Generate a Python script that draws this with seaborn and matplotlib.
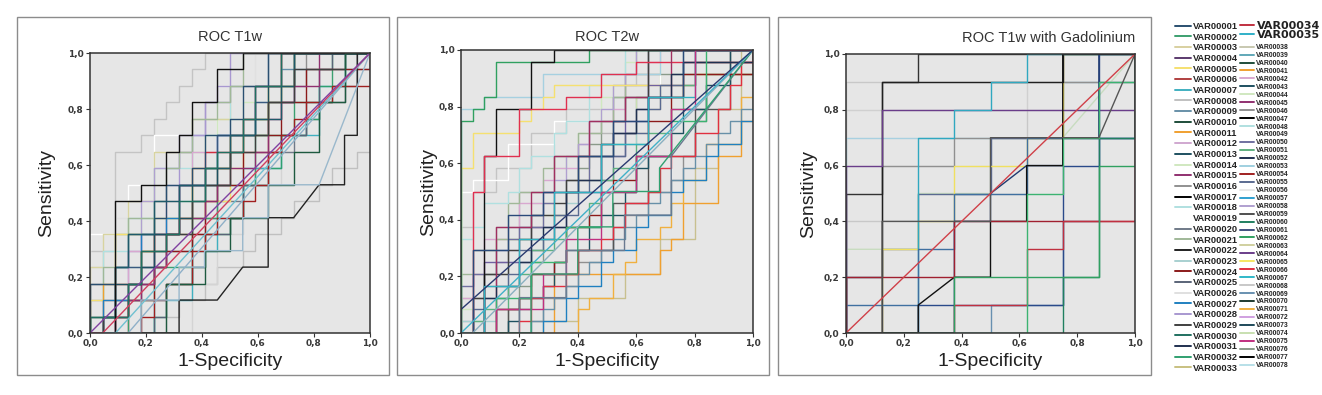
import numpy as np
import matplotlib
matplotlib.use("Agg")
import matplotlib.pyplot as plt
from matplotlib.lines import Line2D
from matplotlib.patches import Rectangle
import seaborn as sns

# ROC curves written as runs of steps: R = one negative case, U = one positive case,
# Dk/m = tied block (k negatives, m positives)
t1_n = (22, 17)
t1_moves = [
    "U5 R2 U6 R2 U1 R1 U1 R1 U1 R1 U1 R1 U1 R1 U1 R13",
    "U6 R3 U3 R2 U3 R5 U3 R5 U2 R7",
    "U4 R1 U1 R1 U2 R1 U1 R1 U1 R2 U1 R1 U1 R2 U2 R1 U1 R1 U1 R2 U2 R9",
    "R6 U1 R1 U1 R2 U1 R1 U1 R2 U1 R1 U1 R2 U1 R1 U1 R2 U1 R1 U1 R2 U1 R1 U6",
    "U2 R1 U1 R1 U1 R1 U2 R1 U1 R1 U1 R2 U1 R1 U2 R1 U1 R1 U1 R2 U1 R1 U1 R1 U2 R8",
    "U4 R1 U2 R2 U2 R2 U3 R3 U2 R3 U2 R4 U2 R7",
    "U2 R1 U3 R2 U2 R2 U3 R3 U2 R3 U3 R3 U2 R8",
    "U3 R4 U5 R1 U2 R2 U2 R2 U2 R2 U1 R3 U2 R8",
    "R1 U2 R1 U1 R1 U2 R1 U1 R1 U2 R1 U1 R1 U2 R1 U1 R1 U2 R1 U1 R1 U2 R11",
    "R8 U3 R2 U3 R2 U3 R3 U2 R3 U3 R2 U3 R2",
    "R4 U4 R2 U3 R3 U3 R2 U2 R3 U3 R3 U2 R5",
    "U1 R1 U2 R1 U1 R2 U2 R1 U1 R2 U1 R1 U2 R2 U1 R2 U1 R1 U2 R2 U1 R1 U2 R6",
    "U3 R1 U1 R1 U2 R1 U1 R2 U1 R1 U2 R1 U1 R1 U2 R2 U1 R1 U1 R1 U2 R10",
    "U2 R2 U1 R1 U2 R1 U1 R2 U2 R1 U1 R1 U2 R2 U1 R2 U1 R1 U2 R2 U2 R7",
    "U1 R2 U1 R1 U1 R1 U2 R2 U1 R1 U1 R1 U2 R2 U1 R1 U1 R1 U2 R2 U1 R1 U1 R1 U2 R6",
    "R1 U1 R1 U1 R2 U1 R1 U1 R1 U1 R2 U1 R1 U1 R1 U1 R2 U1 R1 U1 R1 U1 R2 U1 R1 U1 R1 U1 R2 U1 R1 U2 R1",
    "U2 R2 U4 R3 U1 R4 U1 R2 U2 R1 U3 R2 U2 R2 U2 R6",
    "R1 U3 R3 U2 R1 U1 R3 U4 R3 U2 R3 U2 R1 U3 R7",
    "R3 U3 R2 U3 R2 U3 R2 U2 R3 U2 R1 U2 R2 U2 R7",
    "R2 U2 R1 U1 R2 U2 R1 U1 R2 U2 R1 U1 R2 U2 R1 U1 R2 U2 R1 U2 R7 U1",
    "R5 U2 R3 U3 R2 U2 R2 U3 R3 U2 R3 U3 R2 U2 R2",
    "R3 U2 R2 U2 R3 U3 R2 U2 R3 U3 R3 U2 R3 U3 R3",
    "R5 U1 R1 U2 R2 U1 R1 U2 R2 U1 R1 U2 R2 U1 R1 U2 R2 U1 R1 U2 R2 U2 R2",
    "R1 U2 R2 U1 R1 U3 R2 U1 R1 U2 R2 U1 R1 U2 R2 U1 R1 U2 R2 U2 R7",
    "R1 U1 R1 U3 R3 U2 R2 U3 R3 U3 R3 U2 R3 U3 R6",
    "R5 U1 R1 U2 R2 U1 R1 U2 R2 U1 R1 U2 R2 U2 R1 U1 R2 U2 R1 U2 R1 U1 R3",
    "R2 U1 R1 U1 R2 U2 R1 U1 R2 U1 R1 U2 R1 U1 R2 U2 R2 U1 R1 U2 R2 U2 R5 U1",
    "R4 U1 R1 U1 R1 U1 R2 U2 R1 U1 R1 U1 R2 U1 R1 U1 R1 U2 R1 U1 R1 U1 R1 U1 R2 U1 R3 U2",
    "R2 U1 R1 U1 R1 U1 R1 U1 R1 U2 R1 U1 R2 U1 R1 U1 R1 U1 R2 U1 R1 U2 R1 U1 R1 U1 R2 U2 R4",
    "U3 R2 U1 R1 U2 R2 U1 R1 U2 R2 U1 R1 U2 R2 U1 R1 U2 R2 U2 R8",
    "R1 U1 R1 U2 R2 U1 R1 U2 R2 U1 R1 U2 R2 U1 R1 U2 R2 U1 R1 U2 R2 U2 R6",
    "U1 R2 U3 R1 U2 R2 U2 R2 U1 R2 U1 R2 U2 R2 U1 R2 U2 R1 U2 R6",
    "R1 U1 R2 U2 R1 U2 R2 U1 R2 U2 R1 U1 R2 U2 R2 U1 R1 U2 R2 U2 R4 U1 R2",
    "U1 R3 U2 R1 U2 R2 U1 R1 U2 R2 U2 R1 U1 R2 U2 R1 U2 R2 U2 R7",
    "R2 U8 R2 U1 R2 U2 R1 U1 R1 U2 R2 U2 R2 U1 R10",
    "R6 U3 R3 U2 R2 U2 R3 U2 R2 U2 R2 U3 R2 U3 R2",
    "R7 U2 R3 D2/2 R2 U3 R2 D2/2 R2 U3 R1 U5 R1",
    "R4 U2 R3 U2 R2 U1 R3 U2 R2 U2 R4 D4/8",
    "R3 D19/17",
    "R2 D20/17",
    "R1 D21/17",
    "D22/17",
]
t1_colors = ["#c4c4c4", "#ffffff", "#e0e0e0", "#c0c0c0", "#d0e8c0", "#d8d4a0",
             "#b0e0e0", "#b0a0d0", "#a898d0", "#d4d4d4", "#909090", "#a8d0d0",
             "#a0b898", "#d8a8d0", "#c8c080", "#707a88", "#f5e070", "#f0a030",
             "#d03040", "#6890a8", "#40b0c0", "#3ca070", "#30a070", "#2080c0",
             "#3a5a80", "#5a6478", "#8b1a1a", "#a02020", "#903070", "#2a4f70",
             "#1e5060", "#1f5a6a", "#404040", "#207060", "#111111", "#1e5a40",
             "#222222", "#9ab8cc", "#8fb0c8", "#70c0d0", "#d04060", "#8040a0"]

t2_n = (25, 24)
t2_moves = [
    "U9 R1 U3 R2 U2 R3 U3 R3 U2 R3 U2 R3 U3 R10",
    "R1 U7 R2 U2 R2 U3 R3 U3 R3 U2 R4 U3 R4 U4 R6",
    "R1 U5 R2 U3 R3 U2 R3 U3 R3 U3 R3 U4 R2 U4 R8",
    "U12 R1 U1 R3 U3 R4 U2 R4 U3 R5 U3 R8",
    "U2 R1 U1 R1 U2 R1 U1 R1 U2 R1 U1 R1 U2 R1 U1 R1 U2 R1 U1 R1 U2 R1 U1 R1 U2 R1 U1 R1 U2 R1 U1 R10",
    "R4 U2 R1 U2 R1 U2 R1 U2 R1 U2 R1 U2 R1 U2 R1 U2 R1 U2 R1 U2 R1 U2 R11 U2",
    "R7 U1 R3 U2 R4 U2 R3 U3 R3 U6 R2 U5 R2 U5 R1",
    "U3 R2 U1 R1 U1 R1 U3 R2 U1 R1 U2 R1 U1 R2 U1 R1 U2 R2 U1 R1 U1 R2 U2 R1 U1 R2 U2 R1 U2 R5",
    "U3 R1 U2 R1 U3 R2 U1 R1 U2 R2 U2 R1 U1 R2 U2 R1 U2 R2 U1 R1 U2 R2 U2 R1 U1 R8",
    "U5 R1 U2 R2 U1 R1 U3 R1 U1 R2 U2 R1 U1 R2 U2 R2 U1 R1 U2 R1 U1 R2 U3 R9",
    "U1 R1 U2 R1 U1 R1 U2 R1 U1 R1 U2 R1 U1 R1 U2 R1 U1 R1 U2 R1 U1 R1 U2 R1 U1 R1 U2 R1 U1 R1 U2 R10",
    "U8 R1 U1 R1 U2 R2 U1 R1 U2 R1 U1 R2 U2 R1 U1 R2 U3 R1 U1 R2 U2 R11",
    "U1 R3 U2 R1 U3 R2 U1 R1 U2 R2 U2 R1 U1 R2 U3 R1 U1 R2 U2 R1 U2 R2 U2 R1 U2 R6",
    "U19 R2 U1 R5 U2 R10 U2 R8",
    "U14 R1 U3 R4 U1 R1 U1 R1 U1 R1 U1 R12 U1 R5 U2",
    "R8 U5 R9 U2 R1 U1 R1 U3 R3 U4 R2 U3 R1 U6",
    "R10 U2 R1 U1 R2 U2 R1 U1 R1 U2 R2 U1 R1 U2 R1 U2 R2 U3 R3 U4 R1 U4",
    "R6 U1 R1 U2 R2 U1 R1 U2 R2 U1 R1 U2 R1 U1 R2 U2 R2 U1 R1 U2 R1 U3 R1 U4 R4 U2",
    "R6 U1 R1 U1 R1 U1 R1 U1 R1 U1 R1 U1 R1 U1 R1 U1 R1 U1 R1 U1 R1 U1 R1 U1 R1 U1 R1 U1 R1 U1 R1 U1 R1 U1 R1 U1 R1 U1 R1 U5",
    "R2 U6 R4 U3 R3 U3 R3 U3 R2 U3 R2 U3 R4 U3 R5",
    "U4 R1 U1 R2 U2 R1 U1 R1 U1 R2 U2 R1 U1 R1 U1 R2 U2 R1 U1 R1 U1 R2 U2 R1 U5 R9",
    "R4 U2 R2 U3 R4 U2 R3 U4 R3 U4 R4 U4 R3 U5 R2",
    "R1 U3 R1 U2 R2 U2 R1 U1 R1 U2 R2 U1 R1 U2 R1 U2 R2 U1 R1 U2 R1 U2 R2 U4 R9",
    "R1 U2 R1 U1 R2 U2 R1 U2 R2 U1 R1 U2 R2 U2 R1 U1 R2 U2 R1 U2 R2 U2 R1 U2 R2 U2 R6 U1",
    "R1 U1 R1 U1 R2 U2 R1 U1 R1 U2 R2 U1 R1 U1 R2 U2 R1 U2 R1 U1 R2 U2 R1 U1 R2 U2 R1 U2 R1 U2 R5 U1",
    "R7 U1 R2 U2 R1 U1 R2 U2 R1 U1 R2 U2 R1 U1 R2 U2 R1 U1 R2 U2 R1 U1 R2 U2 R1 U6",
    "R4 U1 R1 U2 R2 U1 R1 U2 R1 U1 R2 U2 R1 U1 R2 U2 R1 U2 R1 U1 R2 U2 R1 U2 R2 U2 R2 U3 R2",
    "R3 U2 R2 U1 R1 U2 R2 U1 R1 U3 R2 U1 R1 U2 R1 U1 R2 U2 R1 U3 R2 U2 R1 U2 R6 U2",
    "U18 R1 U1 R1 U1 R1 U3 R8 U1 R14",
    "R2 U15 R1 U4 R3 U4 R2 U1 R17",
    "R1 U12 R1 U3 R3 U4 R4 U1 R3 U2 R3 U1 R10 U1",
    "R5 U1 R1 U2 R1 U1 R2 U1 R1 U2 R2 U1 R1 U1 R1 U2 R2 U1 R1 U2 R1 U1 R2 U2 R2 U2 R1 U2 R1 U2 R1 U1",
    "R3 U9 R3 U3 R2 U3 R3 U3 R3 U2 R4 U4 R7",
    "R2 U3 R1 U1 R2 U2 R1 U2 R1 U1 R2 U3 R1 U1 R2 U2 R1 U2 R2 U2 R1 U1 R2 U2 R1 U1 R6 U1",
    "R1 U7 R3 U3 R3 U2 R3 U3 R3 U3 R3 U2 R3 U4 R6",
    "R2 U4 R3 U4 R3 U4 R4 U4 R4 U4 R4 U4 R5",
    "R3 U3 R3 U3 R3 U3 R3 U3 R3 U3 R3 U3 R3 U6 R4",
    "R3 U2 R4 U3 R2 U3 R3 U4 R3 U3 R3 U4 R2 U5 R5",
    "R5 U3 R4 U4 R5 U3 R4 U5 D7/9",
    "R6 U5 R4 U4 R3 U3 R4 U2 D8/10",
    "R1 D24/24",
    "D25/24",
    "U2 D25/22",
]
t2_colors = ["#c4c4c4", "#b8b8b8", "#c8e0b0", "#ffffff", "#d0e8c0", "#8a9a8a",
             "#c8c090", "#c8c8b0", "#d8a8d0", "#a0b898", "#b0a0d0", "#b0e0e0",
             "#a8d0d0", "#a6d0e0", "#f5e070", "#f0a030", "#f0b040", "#909090",
             "#6890a8", "#7060a0", "#7070a0", "#555555", "#404040", "#5a6a90",
             "#60b080", "#2080c0", "#1e5060", "#8b1a1a", "#30a060", "#111111",
             "#e03050", "#e03040", "#a03060", "#203050", "#2a4a7a", "#30b0c0",
             "#3cb371", "#c03080", "#6a7a90", "#30a070", "#8ab0c0", "#40b0c8",
             "#2a3a70"]

t3_n = (8, 10)
t3_moves = [
    "U8 R5 U1 R3 U1",
    "U9 R8 U1",
    "R1 U6 R3 U1 R4 U3",
    "U4 R3 U1 R2 U3 R3 U2",
    "U3 R2 U2 R2 U2 R2 D2/3",
    "U7 R6 U2 R2 U1",
    "U2 R1 U4 R2 U1 R3 U2 R2 U1",
    "R4 U1 R2 U3 R1 U3 R1 U3",
    "U2 R1 U1 R1 U2 R2 U2 R4 U3",
    "R1 U3 R1 U1 R1 U2 R2 U1 R1 U3 R2",
    "U5 R1 U4 R1 U1 R6",
    "R1 U9 R5 U1 R2",
    "U6 R1 U2 R7 U2",
    "R2 U7 R1 U1 R1 U1 R1 U1 R3",
    "R2 U1 R4 U5 R1 U4 R1",
    "R3 U4 R1 U1 D1/1 R1 U1 R1 U3 R1",
    "U1 R2 U2 R1 U2 R2 U2 R3 U3",
    "R2 U1 D1/1 R1 U2 R1 U2 R1 U4 R2",
    "U2 R3 U2 R5 U6",
    "R3 U1 R2 U2 R1 U1 R2 U6",
    "R6 U2 R1 U5 R1 U3",
    "R3 U2 R4 U4 R1 U4",
    "R5 U5 R1 U2 R1 U2 R1 U1",
    "R1 U4 R3 U3 R3 D1/3",
    "D8/10",
]
t3_colors = ["#d0d0d0", "#c8c8c8", "#e0e0e0", "#c8c8c8", "#c8dcc0", "#a8d0e0",
             "#909090", "#6890b0", "#5a6a90", "#f0e060", "#333333", "#202020",
             "#6a3d8a", "#30a8c0", "#2a4a8a", "#203a70", "#4070a0", "#111111",
             "#a02030", "#c03040", "#208060", "#30a060", "#3cb371", "#555555",
             "#d04048"]

titles = ["ROC T1w", "ROC T2w", "ROC T1w with Gadolinium"]
tick_vals = [0.0, 0.2, 0.4, 0.6, 0.8, 1.0]
tick_labels = ["0,0", "0,2", "0,4", "0,6", "0,8", "1,0"]

# legend
leg1_labels = ["VAR%05d" % i for i in range(1, 34)]
leg1_colors = ["#2a4f70", "#3ca070", "#d8d0a0", "#5b3a6e", "#f5e070", "#b04040",
               "#40b0c0", "#c0c0c0", "#6890a8", "#1e4d3a", "#f0a030", "#d0a8d0",
               "#1e5060", "#d0e8c0", "#903070", "#909090", "#000000", "#b0e0e0",
               "#ffffff", "#707a88", "#a0b898", "#202020", "#a8d0d0", "#8b1a1a",
               "#5a6478", "#e0e0e0", "#2080c0", "#a898d0", "#404040", "#207060",
               "#203050", "#30a070", "#c8c080"]
leg2_labels = ["VAR00034", "VAR00035"]
leg2_colors = ["#c03040", "#30b0c8"]
leg3_labels = ["VAR%05d" % i for i in range(38, 79)]
leg3_colors = ["#c8c8b0", "#60a8b8", "#1e4d3a", "#f0a030", "#d8a8d0", "#1e5060",
               "#d0e8c0", "#903070", "#909090", "#000000", "#b0e0e0", "#ffffff",
               "#7070a0", "#60b080", "#203050", "#a0d0e0", "#a02020", "#5a6a90",
               "#e8e8e8", "#30a0d0", "#b0a0d0", "#505050", "#208060", "#405080",
               "#30a060", "#d0d0a0", "#6a3d8a", "#f5e663", "#e03040", "#30b8c8",
               "#c8c8c8", "#6890b0", "#1e3a30", "#f0b040", "#d0a0e0", "#1e4a5a",
               "#c8e0b0", "#c03080", "#8a9a8a", "#000000", "#b8e0e8"]


def roc_path(moves, n):
    x, y = [0], [0]
    for tok in moves.split():
        k = tok[0]
        if k == "R":
            x.append(x[-1] + int(tok[1:])); y.append(y[-1])
        elif k == "U":
            x.append(x[-1]); y.append(y[-1] + int(tok[1:]))
        else:
            a, b = tok[1:].split("/")
            x.append(x[-1] + int(a)); y.append(y[-1] + int(b))
    return np.array(x) / n[0], np.array(y) / n[1]


sns.set_style("white")
plt.rcParams["font.family"] = ["Liberation Sans", "DejaVu Sans"]

W, H = 1322, 395
fig = plt.figure(figsize=(W / 100, H / 100), dpi=100)


def px(l, t, r, b):
    return [l / W, 1 - b / H, (r - l) / W, (b - t) / H]


frames = [(17, 17, 389, 375), (397, 17, 769, 375), (778, 17, 1151, 375)]
for (l, t, r, b) in frames:
    fig.add_artist(Rectangle((l / W, 1 - b / H), (r - l) / W, (b - t) / H,
                             transform=fig.transFigure, fill=False,
                             edgecolor="#8c8c8c", lw=1.0))

axes_px = [(90, 53, 370, 333), (461, 50, 753, 333), (846, 54, 1135, 333)]
panels = [(t1_moves, t1_colors, t1_n), (t2_moves, t2_colors, t2_n),
          (t3_moves, t3_colors, t3_n)]
ylab_x = [-0.125, -0.082, -0.10]
title_pad = [8.5, 6.5, 9.0]

for i, (box, (moves, cols, n)) in enumerate(zip(axes_px, panels)):
    ax = fig.add_axes(px(*box))
    ax.set_facecolor("#e6e6e6")
    for mv, c in zip(moves, cols):
        xs, ys = roc_path(mv, n)
        sns.lineplot(x=xs, y=ys, sort=False, estimator=None, color=c,
                     lw=1.0, ax=ax)
    ax.set_xlim(0, 1)
    ax.set_ylim(0, 1)
    ax.set_xticks(tick_vals)
    ax.set_yticks(tick_vals)
    ax.set_xticklabels(tick_labels)
    ax.set_yticklabels(tick_labels)
    ax.tick_params(axis="both", direction="out", length=3, width=0.8,
                   color="#333333", pad=1.5, bottom=True, left=True)
    for lab in ax.get_xticklabels() + ax.get_yticklabels():
        lab.set_fontfamily("DejaVu Sans")
        lab.set_fontweight("bold")
        lab.set_fontsize(6.5)
        lab.set_color("#3a3a3a")
    for sp in ax.spines.values():
        sp.set_color("#333333")
        sp.set_linewidth(1.1)
    ax.set_xlabel("1-Specificity", fontsize=14, color="#222222")
    ax.set_ylabel("Sensitivity", fontsize=14, color="#222222")
    ax.xaxis.set_label_coords(0.5, -0.072)
    ax.yaxis.set_label_coords(ylab_x[i], 0.5)
    if i == 2:
        ax.set_title(titles[i], fontsize=10.5, color="#333333",
                     pad=title_pad[i], loc="right")
    else:
        ax.set_title(titles[i], fontsize=10.5, color="#333333",
                     pad=title_pad[i])


def handles(colors):
    return [Line2D([], [], color=c, lw=1.4) for c in colors]


lg1 = fig.legend(handles(leg1_colors), leg1_labels, loc="upper left",
                 bbox_to_anchor=(1175 / W, 1 - 22 / H), frameon=False,
                 borderpad=0, borderaxespad=0, handlelength=1.7,
                 handletextpad=0.25, labelspacing=0.18,
                 prop={"family": "Liberation Sans", "weight": "bold", "size": 6.7})
lg2 = fig.legend(handles(leg2_colors), leg2_labels, loc="upper left",
                 bbox_to_anchor=(1240 / W, 1 - 21 / H), frameon=False,
                 borderpad=0, borderaxespad=0, handlelength=1.3,
                 handletextpad=0.2, labelspacing=-0.1,
                 prop={"family": "DejaVu Sans", "weight": "bold", "size": 8})
lg3 = fig.legend(handles(leg3_colors), leg3_labels, loc="upper left",
                 bbox_to_anchor=(1240 / W, 1 - 44 / H), frameon=False,
                 borderpad=0, borderaxespad=0, handlelength=2.1,
                 handletextpad=0.3, labelspacing=0.14,
                 prop={"family": "Liberation Sans", "weight": "bold", "size": 4.9})
for lg in (lg1, lg2, lg3):
    for t in lg.get_texts():
        t.set_color("#222222")

fig.savefig("out.png", dpi=100, facecolor="white")
